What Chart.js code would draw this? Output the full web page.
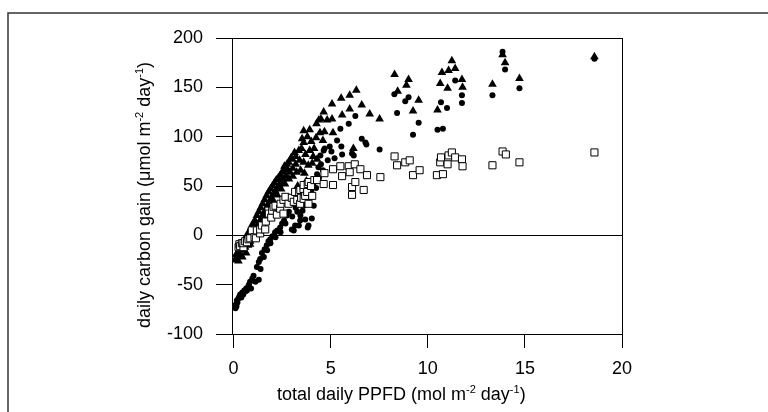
<!DOCTYPE html>
<html>
<head>
<meta charset="utf-8">
<script src="https://cdn.jsdelivr.net/npm/chart.js@4/dist/chart.umd.min.js"></script>
<style>
  html, body { margin: 0; padding: 0; background: #fff; }
  #wrap { width: 768px; height: 412px; }
</style>
</head>
<body>
<div id="wrap"><canvas id="chart" width="768" height="412"></canvas></div>
<script>
// valores: [PPFD diario, ganancia de carbono diaria]
const triangles = [
  [0.08,-25],[0.12,-20],[0.15,-23],[0.2,-18],[0.25,-26],[0.3,-14],[0.35,-20],[0.4,-10],[0.45,-22],
  [0.5,-6],[0.55,-15],[0.6,-3],[0.65,-18],[0.7,0],[0.75,-10],[0.8,4],[0.85,-6],[0.9,8],[0.95,-2],
  [1.0,12],[1.05,2],[1.1,15],[1.15,6],[1.2,20],[1.25,10],[1.3,24],[1.35,14],[1.4,28],[1.45,18],
  [1.5,32],[1.55,22],[1.6,36],[1.65,26],[1.7,40],[1.75,30],[1.8,44],[1.85,34],[1.9,47],[1.95,38],
  [2.0,50],[2.05,42],[2.1,53],[2.15,45],[2.2,56],[2.25,48],[2.3,58],[2.35,51],[2.4,61],[2.45,54],
  [2.5,64],[2.55,57],[2.6,67],[2.62,70],[2.7,60],[2.75,72],[2.84,74],[2.9,64],[2.95,78],[3.02,77],
  [3.05,68],[3.14,84],[3.2,72],[3.36,86],[3.4,76],[3.53,98],[3.61,94],[3.61,106],[3.61,74],[3.7,82],
  [3.8,100],[3.92,107],[3.92,86],[4.0,95],[4.27,113],[4.3,77],[4.39,117],[4.5,118],[4.64,125],[4.68,105],
  [4.82,117],[3.3,50],[3.5,46],[3.75,55],[3.95,52],
  [0.6,-12],[0.85,-9],[1.05,-3],[1.25,4],[1.45,12],[1.65,20],[1.85,28],[2.05,35],[2.25,41],[2.45,47],
  [2.65,52],[2.85,57],[3.05,60],[3.25,64],[3.45,66],[3.65,63],[3.85,71],[4.05,73],[4.15,88],[4.25,99],
  [4.45,104],[4.6,96],[4.1,80],[3.5,88],[3.2,80],[2.8,66],
  [5.07,133],[5.07,118],[5.12,104],[5.54,139],[5.59,122],[5.98,142],[5.98,128],[6.17,88],[6.32,147],
  [6.6,132],[7.01,123],[7.52,118],
  [8.29,163],[8.45,146],[8.9,152],[9.01,158],[9.24,126],[9.53,137],[10.5,127],[10.64,154],[10.73,165],
  [11.02,149],[11.07,167],[11.24,177],[11.41,169],[11.76,158],[11.79,150],[13.33,153],[13.85,183],
  [13.98,175],[14.72,159],[18.58,181]
];

const circles = [
  [0.1,-74],[0.12,-70],[0.15,-72],[0.17,-66],[0.2,-68],[0.25,-64],[0.3,-62],[0.34,-60],[0.4,-63],
  [0.45,-58],[0.5,-60],[0.55,-56],[0.6,-57],[0.65,-54],[0.69,-56],[0.75,-52],[0.79,-50],[0.85,-47],
  [0.9,-54],[0.96,-44],[1.03,-41],[1.13,-47],[1.2,-32],[1.3,-45],[1.3,-27],[1.37,-24],[1.39,-34],
  [1.46,-18],[1.56,-22],[1.6,-14],[1.71,-10],[1.73,-15],[1.8,-6],[1.89,-4],[1.9,-8],[2.0,-1],
  [2.14,3],[2.16,-2],[2.25,5],[2.4,8],[2.42,3],[2.5,12],[2.6,15],[2.67,12],[2.75,20],[2.85,24],
  [3.0,6],[3.02,19],[3.1,5],[3.17,10],[3.2,28],[3.28,24],[3.36,10],[3.43,15],[3.44,20],[3.5,34],
  [3.61,30],[3.69,16],[3.75,40],[3.82,8],[3.86,10],[4.0,46],[4.03,17],[4.13,30],[4.2,55],[4.3,62],
  [4.37,69],[4.47,81],[4.5,72],[4.64,86],[4.69,88],[5.04,85],[5.33,96],[5.5,108],[5.55,90],[5.59,82],
  [3.55,25],[3.8,35],[4.05,42],[4.25,48],[4.4,58],[4.1,52],[2.95,32],[3.3,40],[4.6,66],[4.85,76],
  [4.95,90],[5.2,78],
  [5.93,113],[6.1,83],[6.19,81],[6.27,121],[6.6,98],[6.79,94],[6.84,92],[7.52,87],
  [8.28,143],[8.42,124],[8.84,136],[9.01,140],[9.24,102],[9.53,114],[10.5,107],[10.68,135],[10.78,108],
  [10.99,129],[11.41,157],[11.76,142],[11.76,134],[13.33,142],[13.85,186],[13.98,168],[14.72,149],[18.58,179]
];

const squares = [
  [0.26,-12],[0.3,-9],[0.34,-11],[0.43,-8],[0.51,-12],[0.51,-8],[0.6,-6],[0.69,-7],[0.77,-4],[0.86,-3],
  [0.94,5],[1.08,-2],[1.15,-3],[1.2,5],[1.37,2],[1.37,6],[1.46,10],[1.63,6],[1.66,14],[1.8,25],
  [1.82,22],[1.94,18],[1.99,25],[2.06,29],[2.16,30],[2.23,21],[2.4,27],[2.42,32],[2.57,22],[2.57,36],
  [2.67,39],[2.83,32],[3.0,38],[3.1,34],[3.17,44],[3.28,36],[3.38,44],[3.43,32],[3.44,46],[3.48,38],
  [3.6,47],[3.61,37],[3.61,51],[3.69,40],[3.79,44],[3.82,52],[3.86,32],[3.87,54],[3.99,50],[4.05,40],
  [4.16,56],[4.3,56],[4.64,52],[4.68,63],[5.12,51],[5.12,67],[5.5,70],[5.59,60],[5.93,70],[5.98,64],
  [6.1,49],[6.1,41],[6.24,72],[6.27,54],[6.53,67],[6.7,46],[6.87,61],[7.56,59],
  [8.29,80],[8.42,71],[8.84,74],[9.07,76],[9.24,61],[9.58,66],[10.47,61],[10.64,74],[10.68,79],
  [10.78,62],[11.02,72],[11.07,81],[11.24,84],[11.41,79],[11.76,77],[11.79,70],[13.33,71],[13.85,85],
  [14.02,82],[14.72,74],[18.58,84]
];

const xTicks = [0, 5, 10, 15, 20];
const yTicks = [-100, -50, 0, 50, 100, 150, 200];
const xTitle = ['total daily PPFD (mol m', '-2', ' day', '-1', ')'];
const yTitle = ['daily carbon gain (\u03bcmol m', '-2', ' day', '-1', ')'];

const FONT = "'Liberation Sans', Arial, sans-serif";

function toPoints(arr) {
    return arr.map(p => ({ x: p[0], y: p[1] }));
}

// dibuja un texto con superindices (los trozos impares van arriba y mas pequenos)
function drawRichText(ctx, parts, x, y, size) {
    let cx = x;
    parts.forEach((t, i) => {
        const sup = i % 2 === 1;
        ctx.font = (sup ? Math.round(size * 0.62) : size) + 'px ' + FONT;
        ctx.fillText(t, cx, sup ? y - size * 0.38 : y);
        cx += ctx.measureText(t).width;
    });
}

const decorPlugin = {
    id: 'decor',
    beforeDatasetsDraw(chart) {
        const ctx = chart.ctx;
        const a = chart.chartArea;
        const y0 = Math.round(chart.scales.y.getPixelForValue(0)) + 0.5;
        ctx.save();
        ctx.strokeStyle = '#000';
        ctx.lineWidth = 1;
        // caja del grafico
        ctx.strokeRect(Math.round(a.left) + 0.5, Math.round(a.top) + 0.5,
            Math.round(a.right - a.left), Math.round(a.bottom - a.top));
        // linea del cero
        ctx.beginPath();
        ctx.moveTo(a.left, y0);
        ctx.lineTo(a.right, y0);
        ctx.stroke();
        ctx.restore();
    },
    afterDraw(chart) {
        const ctx = chart.ctx;
        ctx.save();
        // marco exterior de la figura
        ctx.strokeStyle = '#333';
        ctx.lineWidth = 1.5;
        ctx.beginPath();
        ctx.moveTo(8, 412);
        ctx.lineTo(8, 13);
        ctx.lineTo(768, 13);
        ctx.stroke();

        ctx.fillStyle = '#000';
        ctx.textBaseline = 'alphabetic';
        ctx.textAlign = 'left';
        drawRichText(ctx, xTitle, 277, 400, 18);

        ctx.translate(150, 328);
        ctx.rotate(-Math.PI / 2);
        drawRichText(ctx, yTitle, 0, 0, 18);
        ctx.restore();
    }
};

const ctx = document.getElementById('chart').getContext('2d');
new Chart(ctx, {
    type: 'scatter',
    data: {
        datasets: [
            {
                label: 'squares',
                data: toPoints(squares),
                pointStyle: 'rect',
                pointRadius: 5,
                backgroundColor: '#fff',
                borderColor: '#000',
                borderWidth: 1
            },
            {
                label: 'circles',
                data: toPoints(circles),
                pointStyle: 'circle',
                pointRadius: 3,
                backgroundColor: '#000',
                borderColor: '#000',
                borderWidth: 0
            },
            {
                label: 'triangles',
                data: toPoints(triangles),
                pointStyle: 'triangle',
                pointRadius: 5,
                backgroundColor: '#000',
                borderColor: '#000',
                borderWidth: 0
            }
        ]
    },
    options: {
        responsive: false,
        animation: false,
        devicePixelRatio: 1,
        layout: { padding: { left: 0, top: 38, right: 146, bottom: 0 } },
        plugins: {
            legend: { display: false },
            tooltip: { enabled: false }
        },
        scales: {
            x: {
                type: 'linear',
                min: -0.08,
                max: 20,
                afterBuildTicks: s => { s.ticks = xTicks.map(v => ({ value: v })); },
                afterFit: s => { s.height = 78; },
                border: { display: false },
                grid: { drawOnChartArea: false, drawTicks: true, tickLength: 14, color: '#000', lineWidth: 1 },
                ticks: { color: '#000', font: { family: FONT, size: 18 }, padding: 10, maxRotation: 0 }
            },
            y: {
                type: 'linear',
                min: -100,
                max: 200,
                afterBuildTicks: s => { s.ticks = yTicks.map(v => ({ value: v })); },
                afterFit: s => { s.width = 232; },
                border: { display: false },
                grid: { drawOnChartArea: false, drawTicks: true, tickLength: 16, color: '#000', lineWidth: 1 },
                ticks: { color: '#000', font: { family: FONT, size: 18 }, padding: 13 }
            }
        }
    },
    plugins: [decorPlugin]
});
</script>
</body>
</html>
